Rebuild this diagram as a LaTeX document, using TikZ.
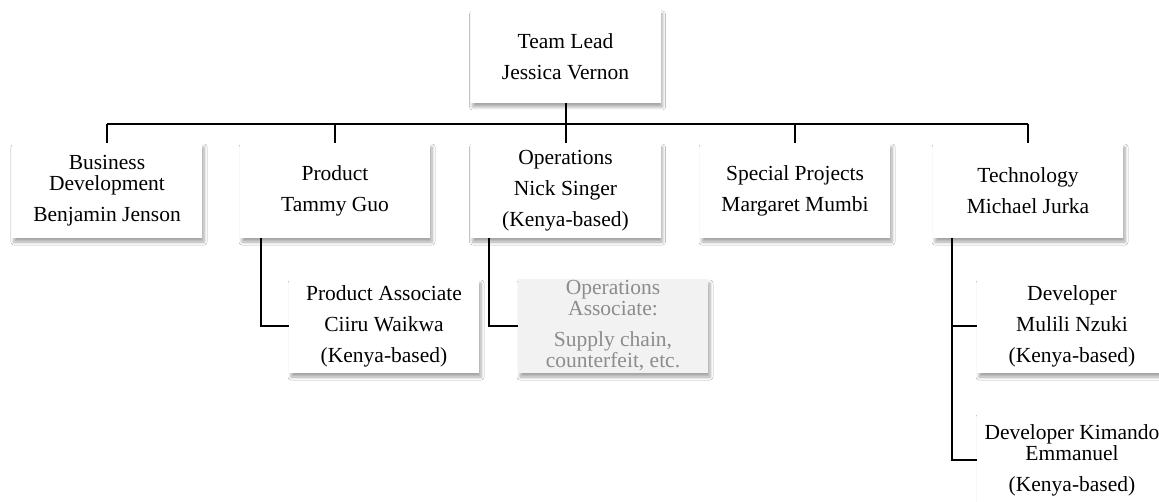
\documentclass[tikz,border=0pt]{standalone}
\usepackage{fontspec}
\setmainfont{Liberation Serif}
\usetikzlibrary{shadows.blur}
\tikzset{
  orgbox/.style={draw=none, fill=white, minimum width=190pt, minimum height=94pt,
    align=center, inner sep=0pt, font=\fontsize{21.5}{21}\selectfont,
    blur shadow={shadow xshift=2pt, shadow yshift=-4pt, shadow blur radius=3pt, shadow blur steps=6, shadow opacity=35}},
  vacant/.style={orgbox, fill=black!5, text=black!45},
  wire/.style={line width=2pt, black}
}
\begin{document}
\begin{tikzpicture}[x=1pt,y=-1pt]
\useasboundingbox (0,0) rectangle (1159,502);
\clip (0,0) rectangle (1159,502);
\fill[white] (0,0) rectangle (1159,502);

\node[orgbox, minimum height=93pt] (lead) at (565.5,56.5) {Team Lead\\[10pt]Jessica Vernon};
\node[orgbox, minimum height=95pt] (bd) at (107,190.5) {Business\\Development\\[10pt]Benjamin Jenson};
\node[orgbox, minimum height=95pt] (prod) at (335,190.5) {Product\\[10pt]Tammy Guo};
\node[orgbox, minimum height=95pt] (ops) at (565.5,190.5) {Operations\\[10pt]Nick Singer\\[10pt](Kenya-based)};
\node[orgbox, minimum height=95pt] (sp) at (795,190.5) {Special Projects\\[10pt]Margaret Mumbi};
\node[orgbox, minimum height=95pt] (tech) at (1028,190.5) {Technology\\[10pt]Michael Jurka};

\node[orgbox] (pa) at (384,326) {Product Associate\\[10pt]Ciiru Waikwa\\[10pt](Kenya-based)};
\node[vacant] (oa) at (613,326) {Operations\\Associate:\\[10pt]Supply chain,\\counterfeit, etc.};
\node[orgbox] (dev1) at (1072,326) {Developer\\[10pt]Mulili Nzuki\\[10pt](Kenya-based)};
\node[orgbox] (dev2) at (1072,460) {Developer Kimando\\Emmanuel\\[10pt](Kenya-based)};

\coordinate (bus) at (0,124);
\draw[wire] (lead.south) -- (lead.south |- bus);
\draw[wire] (bd.north |- bus) -- (tech.north |- bus);
\foreach \n in {bd,prod,ops,sp,tech} {
  \draw[wire] (\n.north) -- (\n.north |- bus);
}
\draw[wire] ([xshift=21pt]prod.south west) |- (pa.west);
\draw[wire] ([xshift=19pt]ops.south west) |- (oa.west);
\draw[wire] ([xshift=19pt]tech.south west) |- (dev2.west);
\draw[wire] ([xshift=19pt]tech.south west |- dev1.west) -- (dev1.west);
\end{tikzpicture}
\end{document}
